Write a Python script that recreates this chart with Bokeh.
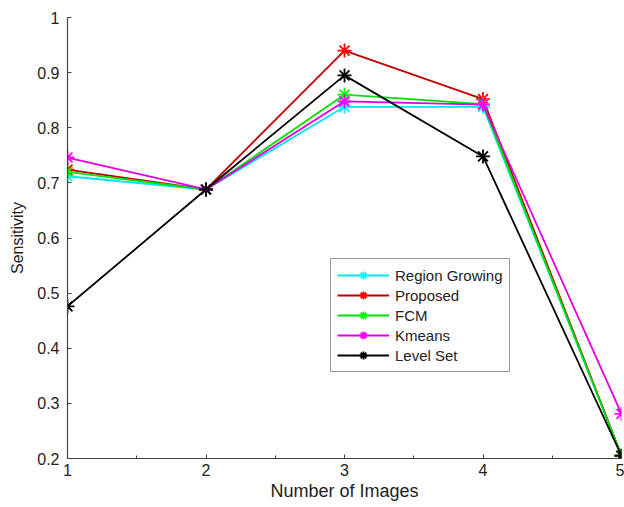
from bokeh.plotting import figure
from bokeh.models import FixedTicker, SingleIntervalTicker, Legend, LegendItem, Range1d
from bokeh.embed import file_html
from bokeh.resources import INLINE

x_vals = [1, 2, 3, 4, 5]
region_growing = [0.712, 0.688, 0.838, 0.838, 0.205]
proposed = [0.724, 0.688, 0.940, 0.852, 0.205]
fcm = [0.720, 0.688, 0.860, 0.843, 0.205]
kmeans = [0.746, 0.688, 0.848, 0.842, 0.281]
level_set = [0.476, 0.688, 0.895, 0.748, 0.205]

series_names = ["Region Growing", "Proposed", "FCM", "Kmeans", "Level Set"]
series_values = [region_growing, proposed, fcm, kmeans, level_set]
line_colors = ["#00E5EE", "#C00000", "#00E000", "#E000E0", "#000000"]
marker_colors = ["#00FFFF", "#FF0000", "#00FF00", "#FF00FF", "#000000"]

y_ticks = [0.2, 0.3, 0.4, 0.5, 0.6, 0.7, 0.8, 0.9, 1.0]
y_tick_labels = ["0.2", "0.3", "0.4", "0.5", "0.6", "0.7", "0.8", "0.9", "1"]
x_ticks = [1, 2, 3, 4, 5]

FONT = "Liberation Sans"

p = figure(width=624, height=507, output_backend="svg", toolbar_location=None,
           x_range=Range1d(1, 5), y_range=Range1d(0.2, 1.0),
           min_border_left=67, min_border_right=3, min_border_top=17, min_border_bottom=49)
p.outline_line_color = None
p.xgrid.visible = False
p.ygrid.visible = False
p.background_fill_color = "white"
p.border_fill_color = "white"

items = []
for name, vals, lc, mc in zip(series_names, series_values, line_colors, marker_colors):
    r1 = p.line(x_vals, vals, line_color=lc, line_width=1.8)
    r2 = p.scatter(x_vals, vals, marker="asterisk", size=14, line_color=mc, line_width=1.8)
    items.append(LegendItem(label=name, renderers=[r1, r2]))

legend = Legend(items=items, location=(263, 86), padding=6, spacing=0,
                label_height=20, glyph_height=20, glyph_width=52, label_width=106,
                label_standoff=6, label_text_font=FONT, label_text_font_size="15px",
                label_text_color="#222222", border_line_color="#333333", border_line_width=1,
                background_fill_alpha=1.0, margin=0)
p.add_layout(legend, "center")

for ax in (p.xaxis[0], p.yaxis[0]):
    ax.axis_line_color = "#444444"
    ax.axis_line_width = 1.2
    ax.major_tick_line_color = "#444444"
    ax.minor_tick_line_color = "#444444"
    ax.major_tick_in = 4
    ax.major_tick_out = 0
    ax.minor_tick_in = 3
    ax.minor_tick_out = 0
    ax.major_label_text_font = FONT
    ax.major_label_text_font_size = "16px"
    ax.major_label_text_color = "#222222"
    ax.axis_label_text_font = FONT
    ax.axis_label_text_font_style = "normal"
    ax.axis_label_text_color = "#222222"

p.xaxis.ticker = SingleIntervalTicker(interval=1, num_minor_ticks=2)
p.xaxis.major_label_standoff = 5
p.xaxis.axis_label = "Number of Images"
p.xaxis.axis_label_text_font_size = "18px"
p.xaxis.axis_label_standoff = 2

p.yaxis.ticker = FixedTicker(ticks=y_ticks)
p.yaxis.major_label_overrides = {t: l for t, l in zip(y_ticks, y_tick_labels)}
p.yaxis.major_label_standoff = 8
p.yaxis.axis_label = "Sensitivity"
p.yaxis.axis_label_text_font_size = "16px"
p.yaxis.axis_label_standoff = 8

open("out.html", "w").write(file_html(p, INLINE))
